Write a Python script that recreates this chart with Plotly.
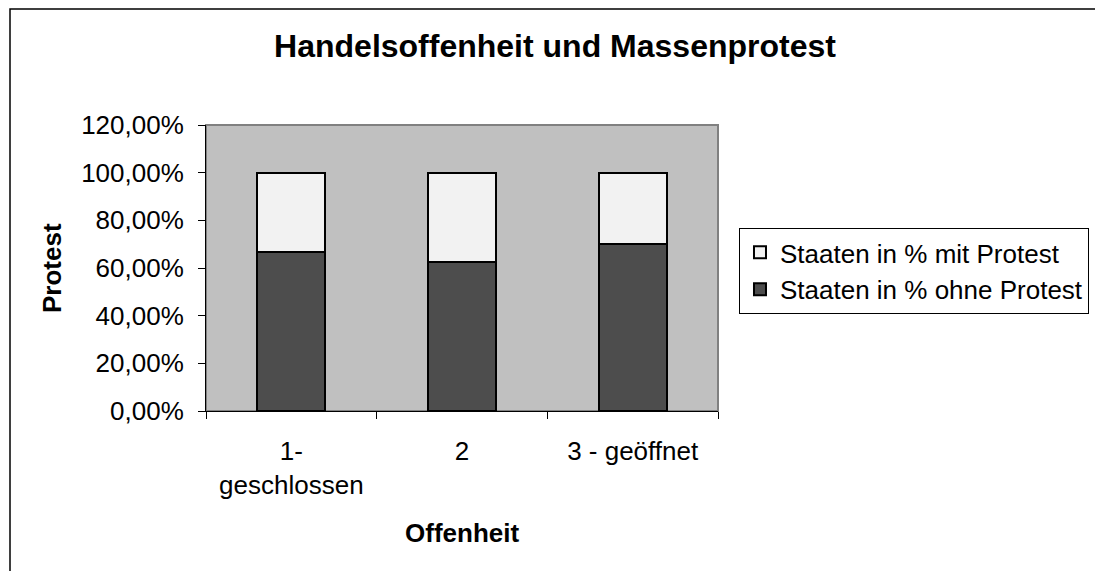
import plotly.graph_objects as go

categories = ["1-<br>geschlossen", "2", "3 - geöffnet"]
ohne_protest = [0.667, 0.625, 0.70]
mit_protest = [0.333, 0.375, 0.30]
series_names = ["Staaten in % ohne Protest", "Staaten in % mit Protest"]
title_text = "Handelsoffenheit und Massenprotest"
x_title = "Offenheit"
y_title = "Protest"

FONT = "Liberation Sans, Arial, sans-serif"
W, H = 1095, 563  # page body has an 8px margin

fig = go.Figure()
fig.add_trace(go.Bar(x=categories, y=ohne_protest, name=series_names[0],
                     marker=dict(color="#4d4d4d", line=dict(color="black", width=2))))
fig.add_trace(go.Bar(x=categories, y=mit_protest, name=series_names[1],
                     marker=dict(color="#f2f2f2", line=dict(color="black", width=2))))

fig.update_layout(
    width=W, height=H, autosize=False,
    margin=dict(l=198, r=385, t=117, b=160, pad=0),
    paper_bgcolor="white", plot_bgcolor="#c0c0c0",
    barmode="stack", bargap=0.6,
    separators=",.",
    font=dict(family=FONT, size=26, color="black"),
    title=dict(text=title_text, x=(555-8)/W, xanchor="center",
               y=1-(46-8)/H, yanchor="middle",
               font=dict(family=FONT, size=32, weight="bold", color="black")),
    legend=dict(x=1.041, y=0.64, xanchor="left", yanchor="top",
                bordercolor="black", borderwidth=1, bgcolor="white",
                traceorder="reversed", font=dict(family=FONT, size=26),
                itemwidth=30, tracegroupgap=0),
    showlegend=True,
)

fig.update_xaxes(type="category", showline=True, linecolor="black", linewidth=1,
                 ticks="outside", ticklen=7, tickcolor="black", tickson="boundaries",
                 showgrid=False, zeroline=False, automargin=False,
                 tickfont=dict(family=FONT, size=26), ticklabelstandoff=17)
fig.update_yaxes(range=[0, 1.2], dtick=0.2, tick0=0, tickformat=".2%",
                 showline=True, linecolor="black", linewidth=1,
                 ticks="outside", ticklen=7, tickcolor="black",
                 showgrid=False, zeroline=False, automargin=False,
                 tickfont=dict(family=FONT, size=26), ticklabelstandoff=9)

# plot area border (grey)
fig.add_shape(type="rect", xref="x domain", yref="y domain", x0=0, x1=1, y0=0, y1=1,
              line=dict(color="#808080", width=2), layer="below")
# chart frame
fig.add_shape(type="rect", xref="paper", yref="paper",
              x0=(10-206)/512, x1=(1096-206)/512, y0=(411-600)/286, y1=(411-9)/286,
              line=dict(color="black", width=1.5), layer="below")

fig.add_annotation(text=x_title, xref="paper", yref="paper", x=0.5, y=(411-533)/286,
                   xanchor="center", yanchor="middle", showarrow=False,
                   font=dict(family=FONT, size=26, weight="bold"))
fig.add_annotation(text=y_title, xref="paper", yref="paper", x=(52-206)/512, y=0.5,
                   xanchor="center", yanchor="middle", showarrow=False, textangle=-90,
                   font=dict(family=FONT, size=26, weight="bold"))

fig.write_html("out.html")
